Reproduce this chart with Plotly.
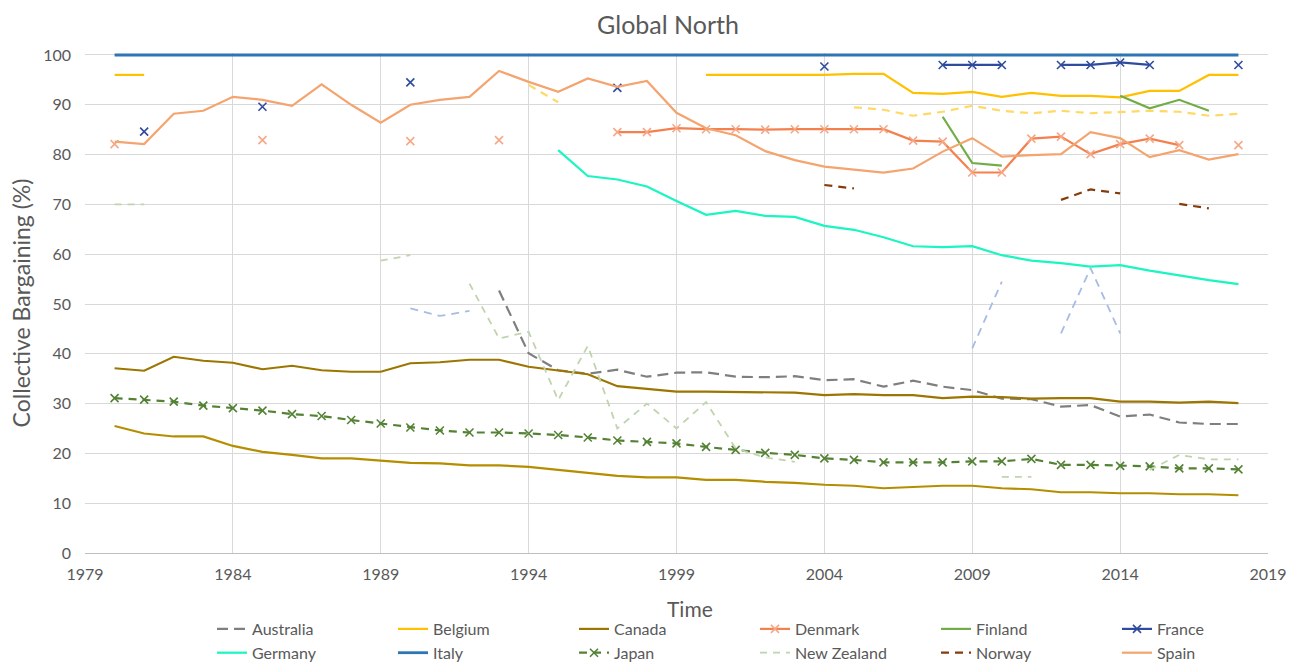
import plotly.graph_objects as go

years = list(range(1980, 2019))
N = None

australia = [N]*13 + [52.7, 40.1, 36.7, 36.0, 36.8, 35.4, 36.2, 36.3, 35.4, 35.3, 35.5, 34.7,
                      34.9, 33.4, 34.6, 33.4, 32.7, 31.0, 30.9, 29.4, 29.7, 27.4, 27.8, 26.2, 25.9, 25.9]
belgium = [96.0, 96.0] + [N]*18 + [96.0, 96.0, 96.0, 96.0, 96.0, 96.2, 96.2, 92.4, 92.2, 92.6,
                                   91.6, 92.4, 91.8, 91.8, 91.5, 92.8, 92.8, 96.0, 96.0]
canada = [37.1, 36.6, 39.4, 38.6, 38.2, 36.9, 37.6, 36.7, 36.4, 36.4, 38.1, 38.3, 38.8, 38.8,
          37.4, 36.7, 35.9, 33.5, 32.9, 32.4, 32.4, 32.3, 32.2, 32.2, 31.7, 31.9, 31.7, 31.7,
          31.1, 31.4, 31.3, 31.0, 31.1, 31.1, 30.4, 30.4, 30.2, 30.4, 30.1]
denmark = [82.1, N, N, N, N, 82.9, N, N, N, N, 82.7, N, N, 82.9, N, N, N,
           84.5, 84.5, 85.3, 85.1, 85.1, 85.0, 85.1, 85.1, 85.1, 85.1, 82.8, 82.6, 76.4,
           76.4, 83.2, 83.6, 80.1, 82.1, 83.2, 81.9, N, 81.9]
finland = [N]*28 + [87.6, 78.3, 77.8, N, N, N, 91.8, 89.3, 91.0, 88.8, N]
france = [N, 84.6, N, N, N, 89.6, N, N, N, N, 94.5, N, N, N, N, N, N, 93.4, N, N, N, N, N, N,
          97.7, N, N, N, 98.0, 98.0, 98.0, N, 98.0, 98.0, 98.5, 98.0, N, N, 98.0]
germany = [N]*15 + [80.9, 75.7, 75.0, 73.6, 70.7, 67.9, 68.7, 67.7, 67.5, 65.7, 64.9, 63.4,
                    61.6, 61.4, 61.6, 59.8, 58.7, 58.2, 57.5, 57.8, 56.7, 55.7, 54.8, 54.0]
italy = [100.0]*39
japan = [31.1, 30.8, 30.4, 29.6, 29.1, 28.6, 27.9, 27.5, 26.7, 26.0, 25.2, 24.6, 24.2, 24.2,
         24.0, 23.7, 23.2, 22.6, 22.3, 22.0, 21.3, 20.7, 20.1, 19.7, 19.0, 18.7, 18.2, 18.2,
         18.2, 18.4, 18.4, 18.9, 17.7, 17.7, 17.5, 17.4, 17.0, 17.0, 16.8]
new_zealand = [70.0, 70.0, N, N, N, N, N, N, N, 58.7, 59.8, N, 54.1, 43.1, 44.4, 30.7, 41.6,
               25.0, 30.0, 25.0, 30.3, 21.0, 19.2, 18.3, N, N, N, N, N, N, 15.3, 15.3,
               N, N, N, 16.7, 19.7, 18.8, 18.8]
norway = [N]*24 + [73.9, 73.2, N, N, N, N, N, N, 70.9, 73.0, 72.2, N, 70.1, 69.2, N]
spain = [82.6, 82.1, 88.2, 88.8, 91.6, 91.0, 89.8, 94.1, 90.0, 86.4, 90.0, 91.0, 91.6, 96.8,
         94.6, 92.6, 95.3, 93.6, 94.8, 88.4, 85.3, 83.9, 80.7, 78.9, 77.6, 77.0, 76.4, 77.2,
         80.6, 83.3, 79.6, 79.9, 80.1, 84.5, 83.3, 79.5, 80.9, 79.0, 80.1]

# further countries drawn without a legend entry
pale_yellow = [N]*14 + [94.0, 90.5] + [N]*9 + [89.5, 89.0, 87.8, 88.6, 89.8, 88.8, 88.3, 88.8,
                                              88.3, 88.6, 88.8, 88.6, 87.8, 88.2]
pale_blue = [N]*10 + [49.1, 47.6, 48.6] + [N]*16 + [41.1, 54.5, N, 44.1, 57.2, 44.1, N, N, N, N]
low_gold = [25.5, 24.0, 23.4, 23.4, 21.5, 20.3, 19.7, 19.0, 19.0, 18.5, 18.1, 18.0, 17.6, 17.6,
            17.3, 16.7, 16.1, 15.5, 15.2, 15.2, 14.7, 14.7, 14.3, 14.1, 13.7, 13.5, 13.0, 13.3,
            13.5, 13.5, 13.0, 12.8, 12.2, 12.2, 12.0, 12.0, 11.8, 11.8, 11.6]

x_ticks = list(range(1979, 2020, 5))
y_ticks = list(range(0, 101, 10))

fig = go.Figure()

LW = 2.2


def add_line(name, values, color, dash="solid", marker=None, legend=True, width=LW):
    kw = {}
    mode = "lines"
    if marker is not None:
        mode = "lines+markers"
        kw["marker"] = dict(symbol="x-thin", size=8, color=marker,
                            line=dict(color=marker, width=1.6))
    fig.add_trace(go.Scatter(
        x=years, y=values, name=name, mode=mode,
        line=dict(color=color, width=width, dash=dash),
        connectgaps=False, showlegend=legend, hoverinfo="x+y+name", **kw))


add_line("pale_yellow", pale_yellow, "#FFD966", dash="8px,6px", legend=False)
add_line("pale_blue", pale_blue, "#A7BCE4", dash="8px,6px", legend=False, width=1.8)
add_line("low_gold", low_gold, "#B58E00", legend=False)

add_line("Australia", australia, "#7F7F7F", dash="11px,6px")
add_line("Belgium", belgium, "#FFC000")
add_line("Canada", canada, "#9C7600")
add_line("Denmark", denmark, "#F4804E", marker="#F5A888")
add_line("Finland", finland, "#70AD47")
add_line("France", france, "#2F4B9E", marker="#2F4B9E")
add_line("Germany", germany, "#1AF5C2")
add_line("Italy", italy, "#2E75B6", width=2.8)
add_line("Japan", japan, "#548235", dash="8px,6px", marker="#548235")
add_line("New Zealand", new_zealand, "#C0D4AF", dash="7px,6px", width=1.8)
add_line("Norway", norway, "#843C0C", dash="8px,6px")
add_line("Spain", spain, "#F4A46E")

FONT = "Lato, Carlito, Open Sans, sans-serif"
GREY = "#595959"

fig.update_layout(
    width=1304, height=666,
    margin=dict(l=85, r=36, t=53, b=113, autoexpand=False),
    paper_bgcolor="white", plot_bgcolor="white",
    font=dict(family=FONT, color=GREY, size=16),
    title=dict(text="Global North", x=668 / 1304, xref="container", xanchor="center",
               y=1 - 25 / 666, yref="container", yanchor="middle",
               font=dict(size=25, color=GREY, family=FONT)),
    legend=dict(orientation="h", xref="container", x=212 / 1304, xanchor="left",
                yref="container", y=1 - 612 / 666, yanchor="top",
                entrywidth=136, entrywidthmode="pixels", font=dict(size=16, color=GREY),
                bgcolor="rgba(0,0,0,0)", itemclick=False, traceorder="normal"),
    showlegend=True,
    annotations=[dict(text="Time", xref="paper", x=(690 - 85) / 1183,
                      yref="paper", y=-(608 - 553) / 500,
                      xanchor="center", yanchor="middle",
                      showarrow=False, font=dict(size=21, color=GREY))],
)

fig.update_xaxes(
    range=[1979, 2019], tickmode="array", tickvals=x_ticks,
    ticktext=[str(v) for v in x_ticks], automargin=False,
    showgrid=True, gridcolor="#D9D9D9", gridwidth=1,
    showline=True, linecolor="#BFBFBF", linewidth=1, zeroline=False,
    ticks="", ticklabelstandoff=7, tickfont=dict(size=16, color=GREY),
)
fig.update_yaxes(
    range=[0, 100.4], tickmode="array", tickvals=y_ticks,
    ticktext=[str(v) for v in y_ticks], automargin=False,
    showgrid=True, gridcolor="#D9D9D9", gridwidth=1,
    showline=False, zeroline=False, ticks="", ticklabelstandoff=13,
    tickfont=dict(size=16, color=GREY),
    title=dict(text="Collective Bargaining (%)", font=dict(size=23, color=GREY), standoff=6),
)

fig.write_html("out.html")
